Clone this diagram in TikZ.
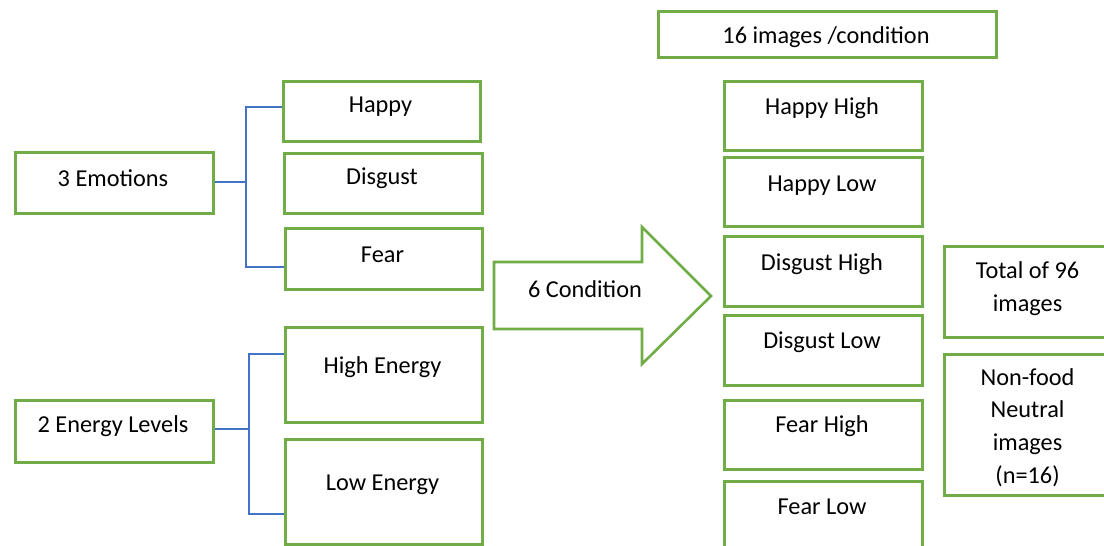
\documentclass[tikz,border=0pt]{standalone}
\usepackage{fontspec}
\setmainfont{Carlito}
\definecolor{boxgreen}{HTML}{70AD47}
\definecolor{lineblue}{HTML}{4472C4}
\tikzset{
  box/.style={draw=boxgreen, line width=2.6pt, fill=white, inner sep=0pt, anchor=north west},
  txt/.style={inner sep=0pt, yshift=-2.5pt, font=\fontsize{24.3}{32.6}\selectfont, align=center, text=black},
  conn/.style={draw=lineblue, line width=1.2pt},
}
% \bx{name}{x1}{y1}{x2}{y2}{texty}{text}
\newcommand\bx[7]{%
  \node[box, minimum width={#4pt-#2pt}, minimum height={#5pt-#3pt}] (#1) at (#2,#3) {};
  \node[txt] (#1-t) at ({(#2+#4)/2},#6) {#7};
}
\begin{document}
\begin{tikzpicture}[x=1pt,y=-1pt]
\useasboundingbox (0,0) rectangle (1104,546);
\clip (0,0) rectangle (1104,546);
% left: emotions
\bx{emo}{14}{151}{212}{212}{176}{3 Emotions}
\bx{happy}{282}{80}{479}{140}{104}{Happy}
\bx{disgust}{283}{152}{481}{212}{176}{Disgust}
\bx{fear}{284}{227}{481}{288}{252}{Fear}
\coordinate (b1t) at (246,107);
\coordinate (b1b) at (246,267);
\draw[conn] (emo.east |- 0,182) -- (b1t |- 0,182);
\draw[conn] (happy.west |- b1t) -- (b1t) -- (b1b) -- (fear.west |- b1b);
% left: energy
\bx{energy}{14}{399}{212}{461}{424}{2 Energy Levels}
\bx{high}{284}{326}{481}{421}{365}{High Energy}
\bx{low}{284}{438}{481}{543}{482}{Low Energy}
\coordinate (b2t) at (249,354);
\coordinate (b2b) at (249,514);
\draw[conn] (energy.east |- 0,429) -- (b2t |- 0,429);
\draw[conn] (high.west |- b2t) -- (b2t) -- (b2b) -- (low.west |- b2b);
% big arrow
\draw[draw=boxgreen, line width=2.6pt, fill=white, line join=miter]
  (494,262) -- (642,262) -- (642,227) -- (711,296) -- (642,364) -- (642,329) -- (494,329) -- cycle;
\node[txt] (cond) at (585,287) {6 Condition};
% right column
\bx{perc}{657}{10}{995}{56}{35}{16 images /condition}
\bx{hh}{723}{80}{921}{149}{106}{Happy High}
\bx{hl}{723}{156}{921}{225}{183}{Happy Low}
\bx{dh}{723}{235}{921}{305}{262}{Disgust High}
\bx{dl}{723}{314}{921}{384}{340}{Disgust Low}
\bx{fh}{723}{399}{921}{468}{424}{Fear High}
\bx{fl}{723}{480}{921}{560}{504}{Fear Low}
% totals (boxes run past the right edge)
\bx{total}{943}{245}{1112}{336}{286}{Total of 96\\images}
\bx{neutral}{943}{353}{1112}{494}{425}{Non-food\\Neutral\\images\\(n=16)}
\end{tikzpicture}
\end{document}
